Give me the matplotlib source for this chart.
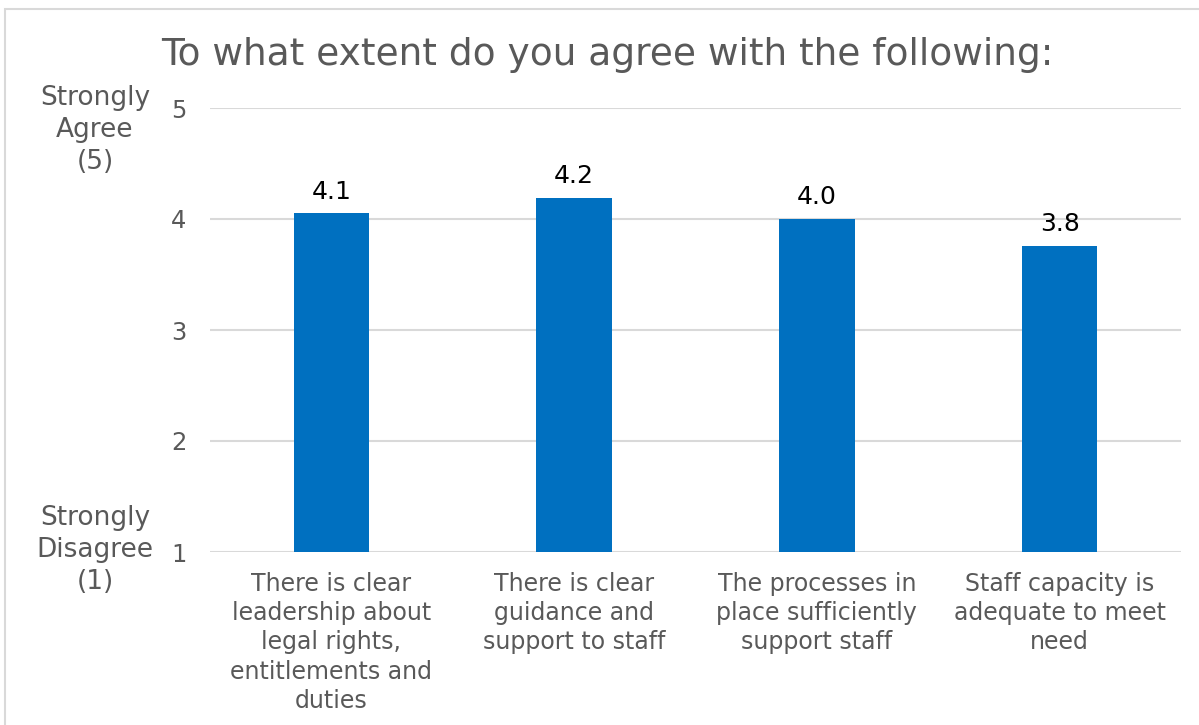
import matplotlib.pyplot as plt
from matplotlib.patches import Rectangle

plt.rcParams['font.family'] = ['DejaVu Sans']

categories = [
    'There is clear\nleadership about\nlegal rights,\nentitlements and\nduties',
    'There is clear\nguidance and\nsupport to staff',
    'The processes in\nplace sufficiently\nsupport staff',
    'Staff capacity is\nadequate to meet\nneed',
]
scores = [4.05, 4.19, 4.00, 3.76]
score_labels = ['4.1', '4.2', '4.0', '3.8']
y_ticks = [1, 2, 3, 4, 5]

GREY = '#595959'
GRID = '#D9D9D9'
BLUE = '#0070C0'

fig = plt.figure(figsize=(11.99, 7.25), dpi=100)
W, H = 1199, 725

# light outer frame (chart area border)
fig.patches.append(Rectangle((5 / W, -0.1), 1.2, 1 - 9 / H + 0.1,
                             transform=fig.transFigure, fill=False,
                             edgecolor=GRID, linewidth=1.5))

ax = fig.add_axes([210 / W, 1 - 552 / H, 971 / W, 444 / H])
x = range(len(categories))
ax.bar(x, scores, width=0.31, color=BLUE, zorder=3)
ax.set_xlim(-0.5, len(categories) - 0.5)
ax.set_ylim(1, 5)
ax.set_yticks(y_ticks)
ax.yaxis.grid(True, color=GRID, linewidth=1.5, zorder=0)
for s in ax.spines.values():
    s.set_visible(False)
ax.tick_params(axis='both', length=0, labelsize=17.5, colors=GREY)
ax.tick_params(axis='y', pad=17)
ax.tick_params(axis='x', pad=14.5)
ax.set_xticks(list(x))
ax.set_xticklabels(categories, linespacing=1.27, va='top', fontsize=17)

for xi, v, lab in zip(x, scores, score_labels):
    ax.annotate(lab, (xi, v), xytext=(0, 7), textcoords='offset points',
                ha='center', va='bottom', fontsize=18, color='black')

fig.text(607 / W, 1 - 55 / H, 'To what extent do you agree with the following:',
         ha='center', va='center', fontsize=27, color=GREY)
fig.text(95 / W, 1 - 130 / H, 'Strongly\nAgree\n(5)', ha='center', va='center',
         fontsize=19, color=GREY, linespacing=1.32)
fig.text(95 / W, 1 - 550 / H, 'Strongly\nDisagree\n(1)', ha='center', va='center',
         fontsize=19, color=GREY, linespacing=1.32)

fig.savefig('out.png', dpi=100)
